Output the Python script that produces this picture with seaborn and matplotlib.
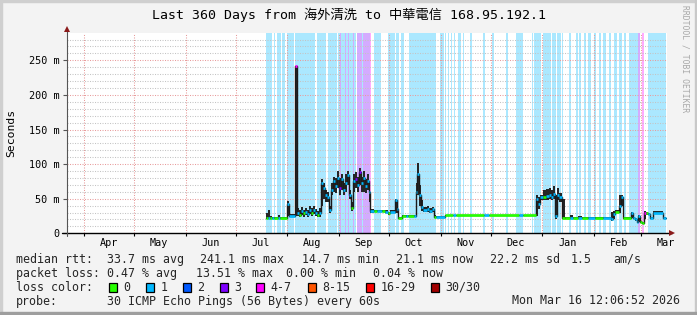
import matplotlib
matplotlib.use("Agg")
import matplotlib.pyplot as plt
import matplotlib.colors as mcolors
from matplotlib.patches import Rectangle
import numpy as np
import pandas as pd
import seaborn as sns

sns.set_theme(style="white")
plt.rcParams["font.family"] = ["DejaVu Sans Mono", "Noto Sans CJK TC", "DejaVu Sans"]

# ---------------- data ----------------
TITLE = "Last 360 Days from 海外清洗 to 中華電信 168.95.192.1"
START = pd.Timestamp("2025-03-21 12:06:52")
SPAN_DAYS = 360
END_DAY = 359.4          # last data sample (days since START)
Y_MAX = 289.5            # ms

ytick_vals = [0, 50, 100, 150, 200, 250]
ytick_labels = ["0", "50 m", "100 m", "150 m", "200 m", "250 m"]

loss_labels = ["0", "1", "2", "3", "4-7", "8-15", "16-29", "30/30"]
loss_colors = ["#26ff00", "#00b8ff", "#0059ff", "#7e00ff",
               "#ff00ff", "#ff5500", "#ff0000", "#a10000"]

# median rtt steps: start day (since START), median ms, smoke low/high ms, loss class index
step_day = [119.4, 120.6, 121.8, 123.0, 124.2, 126.6, 127.8, 132.0, 133.2, 136.8,
            138.0, 139.2, 140.4, 141.6, 142.8, 144.0, 145.2, 146.4, 147.6, 148.8,
            150.0, 151.2, 152.4, 153.6, 154.8, 156.0, 157.2, 158.4, 159.6, 160.8,
            162.0, 163.2, 164.4, 165.6, 166.8, 168.0, 169.2, 170.4, 171.6, 172.8,
            174.0, 175.2, 176.4, 177.6, 178.8, 180.0, 181.2, 181.8, 184.2, 186.0,
            189.0, 190.8, 192.6, 193.8, 196.8, 198.0, 198.6, 201.0, 203.4, 204.6,
            208.2, 209.4, 210.0, 211.2, 212.4, 213.6, 216.0, 217.2, 219.0, 220.2,
            221.4, 226.8, 231.6, 233.4, 250.2, 253.2, 271.2, 273.6, 281.4, 282.6,
            283.8, 285.6, 287.4, 289.2, 290.4, 291.6, 292.8, 294.0, 295.2, 297.0,
            298.8, 301.8, 303.6, 306.6, 309.0, 312.6, 316.8, 321.6, 326.4, 327.6,
            328.8, 331.2, 332.4, 333.6, 338.4, 339.6, 340.8, 342.0, 342.6, 343.8,
            345.0, 346.2, 347.4, 348.6, 349.8, 351.6, 357.6]
median_ms = [22.5, 22.5, 22.5, 22.5, 22.5, 22.5, 22.5, 42, 25, 241.1,
             30, 27, 32, 29, 31, 28, 33, 30, 34, 29,
             26, 30, 72, 65, 55, 52, 34, 62, 75, 68,
             80, 65, 78, 62, 73, 84, 55, 36, 75, 78,
             70, 88, 72, 80, 68, 76, 60, 32, 32, 32,
             32, 31, 29, 31, 48, 35, 22, 24.5, 24.5, 24.5,
             25, 60, 85, 55, 38, 33, 35, 32, 35, 23.5,
             23.5, 26, 26, 26, 26, 26, 26, 26, 50, 42,
             52, 53, 54, 56, 53, 57, 25, 55, 52, 22,
             21.7, 21.7, 21.7, 21.7, 21.7, 21.7, 21.7, 21.7, 20, 28,
             31, 40, 53, 22, 29, 22, 20, 17, 25, 16,
             14.7, 30, 29, 28, 22, 30, 22]
smoke_lo = [20, 21, 21, 21, 21, 21, 21, 25, 23, 25,
            25, 24, 27, 24, 27, 24, 28, 25, 28, 25,
            23, 24, 40, 50, 45, 45, 30, 55, 60, 58,
            65, 55, 62, 55, 60, 70, 50, 32, 60, 65,
            60, 70, 60, 60, 58, 62, 45, 30, 31, 31,
            31, 30, 27, 30, 30, 30, 21, 23.5, 23.5, 23.5,
            24, 30, 55, 40, 32, 31, 31, 30, 31, 22,
            22, 25, 25, 25, 25, 25, 25, 25, 25, 35,
            48, 48, 48, 50, 48, 50, 20, 48, 45, 20,
            21, 21, 21, 21, 21, 21, 21, 21, 18, 20,
            29, 30, 40, 21, 22, 21, 18, 15, 16, 14.7,
            14, 20, 27, 27, 21, 29, 21]
smoke_hi = [30, 33, 25, 24, 24, 26, 24, 46, 28, 242,
            36, 33, 38, 34, 37, 33, 39, 37, 40, 35,
            32, 36, 78, 72, 62, 60, 40, 72, 82, 80,
            90, 80, 85, 72, 85, 90, 62, 45, 85, 88,
            82, 95, 82, 90, 78, 86, 70, 35, 34, 34,
            34, 33, 31, 33, 50, 40, 24, 26, 26, 26,
            27, 72, 101, 70, 48, 38, 40, 36, 38, 26,
            25, 27, 27, 27, 27, 27, 27, 27, 55, 52,
            55, 62, 64, 66, 63, 68, 55, 65, 58, 50,
            24, 26, 23, 25, 23, 23, 23, 23, 31, 32,
            33, 55, 56, 24, 31, 24, 22, 20, 27, 18,
            16, 32, 31, 30, 24, 32, 24]
loss_idx = [0, 1, 0, 1, 0, 1, 0, 1, 1, 4,
            1, 0, 1, 0, 1, 1, 1, 0, 1, 1,
            0, 1, 1, 1, 1, 1, 1, 1, 1, 1,
            1, 3, 1, 1, 1, 1, 1, 0, 1, 3,
            1, 3, 1, 1, 1, 1, 1, 1, 0, 1,
            0, 1, 0, 1, 1, 1, 0, 0, 1, 0,
            1, 1, 1, 1, 1, 1, 1, 1, 1, 0,
            1, 0, 1, 0, 1, 0, 1, 0, 1, 1,
            1, 0, 1, 1, 1, 1, 1, 1, 1, 0,
            0, 1, 0, 1, 0, 1, 0, 1, 1, 1,
            0, 1, 1, 0, 1, 1, 1, 1, 1, 0,
            0, 4, 0, 1, 1, 1, 1]

# background loss shading: start day, end day, loss class index
band_start = [119.8, 124.2, 126.2, 129.2, 132.2, 136.8, 137.2, 150.2, 156.8, 162.6,
              163.8, 166.8, 168.8, 171.8, 174.2, 177.0, 177.6, 181.8, 184.2, 192.8,
              197.8, 200.8, 205.2, 223.8, 226.8, 228.6, 230.4, 232.2, 234.8, 237.6,
              242.0, 250.0, 255.2, 263.6, 269.6, 279.0, 280.6, 285.6, 291.2, 294.0,
              297.2, 301.6, 305.4, 307.6, 310.6, 312.6, 316.6, 319.6, 321.6, 325.6,
              328.6, 331.6, 334.6, 337.6, 338.6, 342.6, 345.0, 348.6]
band_end = [123.4, 125.2, 128.6, 130.8, 136.6, 137.2, 148.8, 155.8, 162.2, 173.8,
            164.4, 167.4, 169.4, 172.4, 177.0, 177.6, 181.8, 182.4, 188.4, 196.8,
            199.4, 202.2, 221.8, 226.2, 227.4, 229.2, 231.3, 232.8, 236.8, 238.2,
            243.2, 251.2, 256.6, 264.6, 273.6, 280.0, 284.6, 290.6, 293.6, 296.6,
            298.2, 302.6, 306.6, 308.6, 311.6, 314.6, 317.6, 320.6, 323.6, 326.6,
            330.0, 333.2, 335.6, 338.6, 342.6, 343.8, 346.6, 359.6]
band_idx = [1, 1, 1, 1, 1, 4, 1, 1, 1, 1,
            3, 3, 3, 3, 3, 1, 3, 4, 1, 1,
            1, 1, 1, 1, 1, 1, 1, 1, 1, 1,
            1, 1, 1, 1, 1, 1, 1, 1, 1, 1,
            1, 1, 1, 1, 1, 1, 1, 1, 1, 1,
            1, 1, 1, 1, 1, 3, 4, 1]

stats_rtt = ["median rtt:", "33.7 ms avg", "241.1 ms max", "14.7 ms min",
             "21.1 ms now", "22.2 ms sd", "1.5", "am/s"]
stats_loss = ["packet loss:", "0.47 % avg", "13.51 % max", "0.00 % min", "0.04 % now"]
probe_text = ["probe:", "30 ICMP Echo Pings (56 Bytes) every 60s"]
stamp_text = "Mon Mar 16 12:06:52 2026"
side_text = "RRDTOOL / TOBI OETIKER"

# ---------------- layout helpers ----------------
W, H = 697, 315
fig = plt.figure(figsize=(W / 100, H / 100), dpi=100, facecolor="#f3f3f3")

def fx(x):
    return x / W

def fy(y):
    return 1 - y / H

AX_L, AX_T, AX_W, AX_H = 66.5, 33.0, 600.0, 200.3
ax = fig.add_axes([fx(AX_L), fy(AX_T + AX_H), AX_W / W, AX_H / H])
ax.set_facecolor("white")
ax.set_xlim(0, SPAN_DAYS)
ax.set_ylim(0, Y_MAX)

def shade(c, a=0.33):
    r, g, b = mcolors.to_rgb(c)
    return (1 - a * (1 - r), 1 - a * (1 - g), 1 - a * (1 - b))

# loss background bands
for s, e, i in zip(band_start, band_end, band_idx):
    ax.axvspan(s, e, color=shade(loss_colors[i]), lw=0, zorder=1)

# grid
for yv in range(10, int(Y_MAX), 10):
    major = yv % 50 == 0
    ax.axhline(yv, color="#e89c9c" if major else "#c4c4c4", lw=0.75,
               ls=(0, (1, 1.4)), zorder=2)
month_starts = pd.date_range("2025-04-01", "2026-03-01", freq="MS")
month_days = [(d - START) / pd.Timedelta(days=1) for d in month_starts]
for md in month_days:
    ax.axvline(md, color="#e89c9c", lw=0.75, ls=(0, (1, 1.4)), zorder=2)

# smoke
sx = step_day + [END_DAY]
ax.fill_between(sx, smoke_lo + [smoke_lo[-1]], smoke_hi + [smoke_hi[-1]],
                step="post", color="#262626", lw=0, zorder=3)

# median (step line via seaborn) then loss-coloured segments
df = pd.DataFrame({"day": sx, "median": median_ms + [median_ms[-1]]})
sns.lineplot(data=df, x="day", y="median", drawstyle="steps-post", color="#1a1a1a",
             lw=1.0, estimator=None, sort=False, ax=ax, zorder=4)
ax.hlines(median_ms, step_day, step_day[1:] + [END_DAY],
          colors=[loss_colors[i] for i in loss_idx], lw=1.9, zorder=5)

# axes decorations
for sp in ["top", "right", "left", "bottom"]:
    ax.spines[sp].set_visible(False)
ax.plot([-0.008, 1.009], [0, 0], transform=ax.transAxes, clip_on=False,
        color="black", lw=1.0, zorder=6)
ax.plot([0, 0], [-0.012, 1.02], transform=ax.transAxes, clip_on=False,
        color="#555555", lw=0.8, zorder=6)
ax.plot([1.009], [0], marker=">", ms=4.5, color="#8b1a1a", transform=ax.transAxes,
        clip_on=False, zorder=7, mew=0)
ax.plot([0], [1.022], marker="^", ms=4.5, color="#8b1a1a", transform=ax.transAxes,
        clip_on=False, zorder=7, mew=0)

ax.set_yticks(ytick_vals)
ax.set_yticklabels(ytick_labels)
ax.set_xticks(month_days)
ax.set_xticklabels([])
ax.tick_params(axis="y", length=3, width=0.8, color="#555555", pad=2.2,
               labelsize=7.3, labelcolor="black", left=True)
ax.tick_params(axis="x", length=2.5, width=0.8, color="black", bottom=True)
ax.set_xlabel("")
ax.set_ylabel("")
ax.grid(False)

for d, md in zip(month_starts, month_days):
    ax.text(md + 15, -9.5 / AX_H, d.strftime("%b"), transform=ax.get_xaxis_transform(),
            ha="center", va="center", fontsize=7.3, color="black", clip_on=False)

# texts
fig.text(fx(348.5), fy(15), TITLE, ha="center", va="center", fontsize=9.5, color="black")
fig.text(fx(11), fy(133), "Seconds", rotation=90, ha="center", va="center",
         fontsize=8.2, color="black")
fig.text(fx(685), fy(59), side_text, rotation=270, ha="center", va="center",
         fontsize=5.8, color="#a8a8a8")

LFS = 8.35
row_y = [259.3, 273.3, 287.3, 301.0]
rtt_x = [16, 107, 200, 302, 396, 490, 571, 613]
for t, x in zip(stats_rtt, rtt_x):
    fig.text(fx(x), fy(row_y[0]), t, ha="left", va="center", fontsize=LFS)
loss_x = [16, 107, 196, 286, 373]
for t, x in zip(stats_loss, loss_x):
    fig.text(fx(x), fy(row_y[1]), t, ha="left", va="center", fontsize=LFS)
fig.text(fx(16), fy(row_y[2]), "loss color:", ha="left", va="center", fontsize=LFS)
box_x = [108.5, 146, 183, 219.5, 256, 307.5, 366, 431]
for lab, col, bx in zip(loss_labels, loss_colors, box_x):
    fig.patches.append(Rectangle((fx(bx), fy(291.5)), 8 / W, 8.5 / H, facecolor=col,
                                 edgecolor="black", lw=0.9, transform=fig.transFigure))
    fig.text(fx(bx + 14.5), fy(row_y[2]), lab, ha="left", va="center", fontsize=LFS)
fig.text(fx(16), fy(row_y[3]), probe_text[0], ha="left", va="center", fontsize=LFS)
fig.text(fx(107), fy(row_y[3]), probe_text[1], ha="left", va="center", fontsize=LFS)
fig.text(fx(680.5), fy(row_y[3]), stamp_text, ha="right", va="center", fontsize=LFS)

# 3D border
fig.patches.append(Rectangle((0, fy(2)), 1, 2 / H, color="#cfcfcf", transform=fig.transFigure))
fig.patches.append(Rectangle((0, 0), 2 / W, 1, color="#cfcfcf", transform=fig.transFigure))
fig.patches.append(Rectangle((fx(695), 0), 2 / W, 1, color="#c8c8c8", transform=fig.transFigure))
fig.patches.append(Rectangle((0, 0), 1, 3 / H, color="#9e9e9e", transform=fig.transFigure))

fig.savefig("out.png", dpi=100, facecolor=fig.get_facecolor())
